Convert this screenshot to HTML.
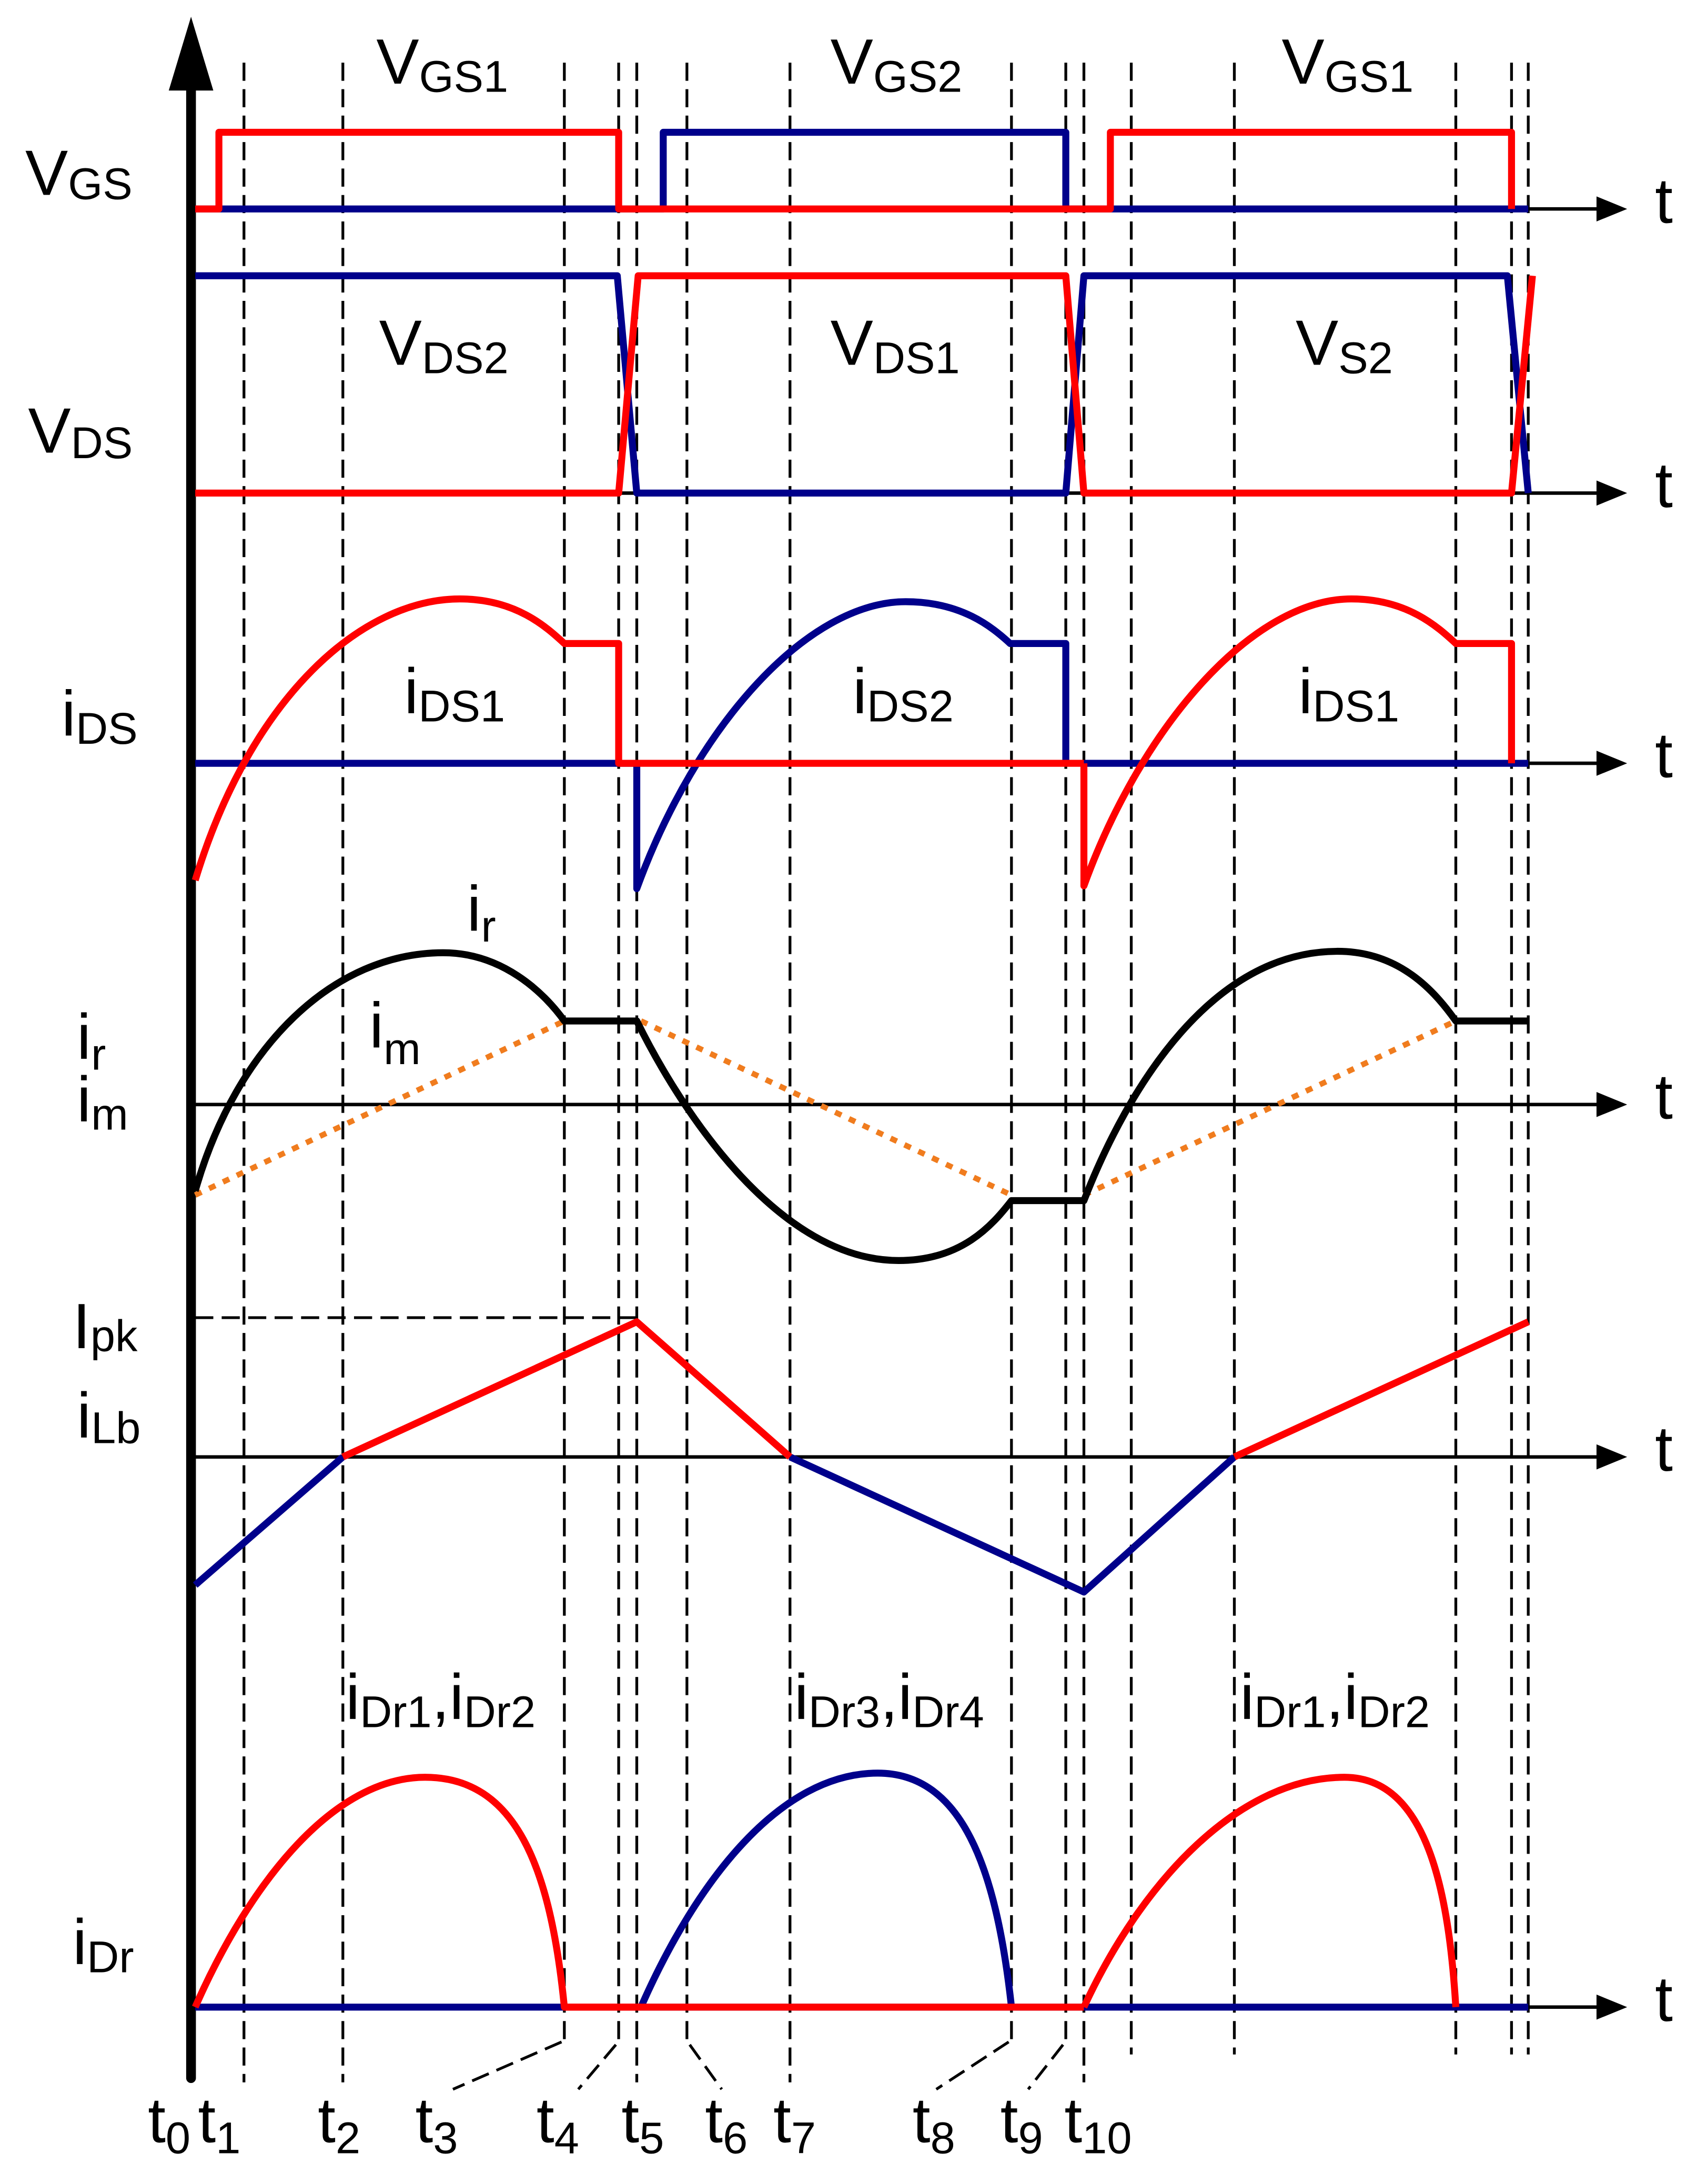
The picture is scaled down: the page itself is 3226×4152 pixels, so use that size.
<!DOCTYPE html>
<html><head><meta charset="utf-8"><style>
html,body{margin:0;padding:0;background:#fff;}
svg{display:block;}
text{font-family:"Liberation Sans",Arial,sans-serif;fill:#000;}
</style></head><body>
<svg width="3226" height="4152" viewBox="0 0 1218 1568" xmlns="http://www.w3.org/2000/svg">
<rect width="1218" height="1568" fill="#fff"/>
<g stroke="#000" stroke-width="2" stroke-dasharray="13,6" fill="none">
<line x1="175" y1="45" x2="175" y2="1495"/>
<line x1="246" y1="45" x2="246" y2="1495"/>
<line x1="405" y1="45" x2="405" y2="1465"/>
<line x1="444" y1="45" x2="444" y2="1465"/>
<line x1="457" y1="45" x2="457" y2="1495"/>
<line x1="493" y1="45" x2="493" y2="1465"/>
<line x1="567" y1="45" x2="567" y2="1495"/>
<line x1="726" y1="45" x2="726" y2="1465"/>
<line x1="765" y1="45" x2="765" y2="1465"/>
<line x1="778" y1="45" x2="778" y2="1495"/>
<line x1="812" y1="45" x2="812" y2="1475"/>
<line x1="886" y1="45" x2="886" y2="1475"/>
<line x1="1045" y1="45" x2="1045" y2="1475"/>
<line x1="1085" y1="45" x2="1085" y2="1475"/>
<line x1="1097" y1="45" x2="1097" y2="1475"/>
<line x1="403" y1="1466" x2="325" y2="1500"/>
<line x1="442" y1="1468" x2="415" y2="1500"/>
<line x1="495" y1="1468" x2="518" y2="1500"/>
<line x1="724" y1="1466" x2="672" y2="1500"/>
<line x1="763" y1="1468" x2="738" y2="1500"/>
<line x1="140" y1="946" x2="457" y2="946"/>
</g>
<g stroke="#000" stroke-width="2.5">
<line x1="137" y1="150" x2="1150" y2="150"/>
<line x1="137" y1="354" x2="1150" y2="354"/>
<line x1="137" y1="548" x2="1150" y2="548"/>
<line x1="137" y1="793" x2="1150" y2="793"/>
<line x1="137" y1="1046" x2="1150" y2="1046"/>
<line x1="137" y1="1441" x2="1150" y2="1441"/>
</g>
<g fill="#000">
<polygon points="1168,150 1146,141 1146,159"/>
<polygon points="1168,354 1146,345 1146,363"/>
<polygon points="1168,548 1146,539 1146,557"/>
<polygon points="1168,793 1146,784 1146,802"/>
<polygon points="1168,1046 1146,1037 1146,1055"/>
<polygon points="1168,1441 1146,1432 1146,1450"/>
</g>
<line x1="137" y1="60" x2="137" y2="1492" stroke="#000" stroke-width="7" stroke-linecap="round"/>
<polygon points="137,12 121,65 153,65" fill="#000"/>

<g fill="none" stroke-width="5" stroke-linejoin="round">
<polyline stroke="#00008b" points="140,150 476,150 476,95 765,95 765,150 1097,150"/>
<polyline stroke="#f00" points="140,150 157,150 157,95 444,95 444,150 797,150 797,95 1085,95 1085,150"/>
<polyline stroke="#00008b" points="140,198 443,198 457,354 765,354 778,198 1082,198 1097,354"/>
<polyline stroke="#f00" points="140,354 444,354 458,198 765,198 778,354 1085,354 1100,198"/>
<polyline stroke="#00008b" points="140,548 457,548"/>
<polyline stroke="#00008b" points="778,548 1097,548"/>
<path stroke="#00008b" d="M457,548 L457,638 C500,520 580,432 650,432 C690,432 712,450 725,462 L765,462 L765,548"/>
<path stroke="#f00" d="M140,632 C180,500 260,430 330,430 C370,430 392,450 405,462 L444,462 L444,548 L778,548"/>
<path stroke="#f00" d="M778,548 L778,636 C820,520 900,430 970,430 C1010,430 1032,450 1045,462 L1085,462 L1085,548"/>
<g stroke="#f07c1e" stroke-width="4" stroke-dasharray="5,6">
<polyline points="140,858 405,733"/>
<polyline points="460,733 726,858"/>
<polyline points="778,858 1045,733"/>
</g>
<path stroke="#000" d="M140,855 C170,750 240,684 318,684 C360,684 390,712 405,733 L457,733 C490,800 560,905 645,905 C690,905 712,880 726,862 L778,862 C810,780 870,683 960,683 C1005,683 1030,712 1045,733 L1097,733"/>
<polyline stroke="#00008b" points="140,1138 246,1046"/>
<polyline stroke="#00008b" points="567,1046 778,1143 886,1046"/>
<polyline stroke="#f00" points="246,1046 457,949 567,1046"/>
<polyline stroke="#f00" points="886,1046 1097,949"/>
<line stroke="#00008b" x1="140" y1="1441" x2="1097" y2="1441"/>
<path stroke="#00008b" d="M460,1441 C500,1350 560,1273 630,1273 C690,1273 715,1340 726,1441"/>
<path stroke="#f00" d="M140,1441 C180,1350 240,1276 305,1276 C370,1276 395,1340 405,1441 L460,1441"/>
<line stroke="#f00" x1="405" y1="1441" x2="778" y2="1441"/>
<path stroke="#f00" d="M778,1441 C820,1350 890,1276 965,1276 C1025,1276 1040,1360 1045,1441"/>
</g>

<g font-size="46">
<text x="270" y="60">V<tspan font-size="32" dy="6">GS1</tspan></text>
<text x="596" y="60">V<tspan font-size="32" dy="6">GS2</tspan></text>
<text x="920" y="60">V<tspan font-size="32" dy="6">GS1</tspan></text>
<text x="18" y="140">V<tspan font-size="32" dy="3">GS</tspan></text>
<text x="272" y="262">V<tspan font-size="32" dy="6">DS2</tspan></text>
<text x="596" y="262">V<tspan font-size="32" dy="6">DS1</tspan></text>
<text x="930" y="262">V<tspan font-size="32" dy="6">S2</tspan></text>
<text x="20" y="325">V<tspan font-size="32" dy="4">DS</tspan></text>
<text x="290" y="512">i<tspan font-size="32" dy="6">DS1</tspan></text>
<text x="612" y="512">i<tspan font-size="32" dy="6">DS2</tspan></text>
<text x="932" y="512">i<tspan font-size="32" dy="6">DS1</tspan></text>
<text x="44" y="528">i<tspan font-size="32" dy="6">DS</tspan></text>
<text x="335" y="668">i<tspan font-size="32" dy="8">r</tspan></text>
<text x="265" y="752">i<tspan font-size="32" dy="12">m</tspan></text>
<text x="55" y="760">i<tspan font-size="32" dy="8">r</tspan></text>
<text x="55" y="805">i<tspan font-size="32" dy="6">m</tspan></text>
<text x="52" y="968">I<tspan font-size="32" dy="2">pk</tspan></text>
<text x="55" y="1032">i<tspan font-size="32" dy="4">Lb</tspan></text>
<text x="248" y="1234">i<tspan font-size="32" dy="6">Dr1</tspan><tspan dy="-6">,</tspan>i<tspan font-size="32" dy="6">Dr2</tspan></text>
<text x="570" y="1234">i<tspan font-size="32" dy="6">Dr3</tspan><tspan dy="-6">,</tspan>i<tspan font-size="32" dy="6">Dr4</tspan></text>
<text x="890" y="1234">i<tspan font-size="32" dy="6">Dr1</tspan><tspan dy="-6">,</tspan>i<tspan font-size="32" dy="6">Dr2</tspan></text>
<text x="52" y="1410">i<tspan font-size="32" dy="6">Dr</tspan></text>
<text x="1188" y="160">t</text>
<text x="1188" y="364">t</text>
<text x="1188" y="558">t</text>
<text x="1188" y="803">t</text>
<text x="1188" y="1056">t</text>
<text x="1188" y="1451">t</text>
<text x="106" y="1538">t<tspan font-size="32" dy="8">0</tspan></text>
<text x="142" y="1538">t<tspan font-size="32" dy="8">1</tspan></text>
<text x="228" y="1538">t<tspan font-size="32" dy="8">2</tspan></text>
<text x="298" y="1538">t<tspan font-size="32" dy="8">3</tspan></text>
<text x="385" y="1538">t<tspan font-size="32" dy="8">4</tspan></text>
<text x="446" y="1538">t<tspan font-size="32" dy="8">5</tspan></text>
<text x="506" y="1538">t<tspan font-size="32" dy="8">6</tspan></text>
<text x="555" y="1538">t<tspan font-size="32" dy="8">7</tspan></text>
<text x="655" y="1538">t<tspan font-size="32" dy="8">8</tspan></text>
<text x="718" y="1538">t<tspan font-size="32" dy="8">9</tspan></text>
<text x="764" y="1538">t<tspan font-size="32" dy="8">10</tspan></text>
</g>
</svg>
</body></html>
